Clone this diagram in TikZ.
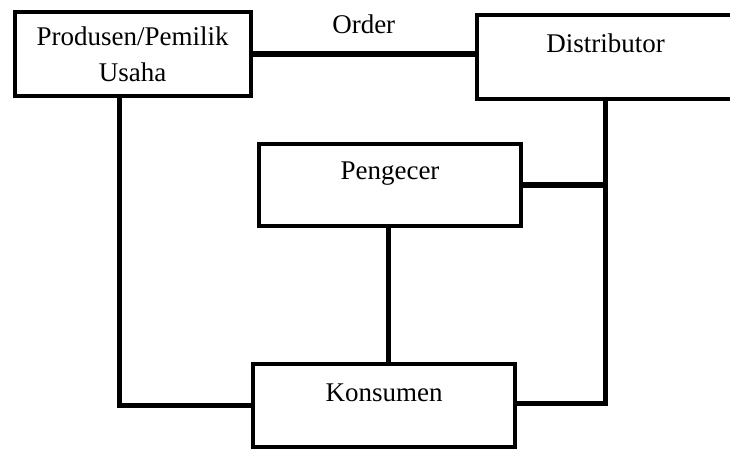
\documentclass[tikz,border=0pt]{standalone}
\usepackage{fontspec}
\setmainfont{Liberation Serif}
\usepackage{tikz}
\def\txt{\fontsize{27}{36}\selectfont}
\tikzset{
  box/.style={draw, line width=4pt, inner sep=0pt, font=\txt},
  link/.style={line width=5.5pt},
  lbl/.style={inner sep=0pt, font=\txt}
}

\begin{document}
\begin{tikzpicture}[x=1pt,y=-1pt]
\clip (0,0) rectangle (730,449);
% the four parties
\node[box, align=center, minimum width=235.8pt, minimum height=84pt] (produsen) at (132.6,54) {Produsen/Pemilik\\Usaha};
\node[box, minimum width=257pt, text height=38pt, text depth=46pt] (distributor) at (605.5,57) {Distributor};
\node[box, minimum width=262.5pt, text height=36pt, text depth=46.5pt] (pengecer) at (390,185.2) {Pengecer};
\node[box, minimum width=262.5pt, text height=37.5pt, text depth=45pt] (konsumen) at (384.2,405.7) {Konsumen};
\coordinate (turun) at (119.5,96);
% links
\draw[link] (produsen.east) -- (produsen.east -| distributor.west) node[lbl, midway, above=17.5pt] (order) {Order};
\draw[link] (turun) |- (konsumen.west);
\draw[link] (distributor.south) |- ([yshift=2pt]konsumen.east);
\draw[link] (pengecer.east) -- (pengecer.east -| distributor.south);
\draw[link] ([xshift=-1.5pt]pengecer.south) -- ([xshift=-1.5pt]pengecer.south |- konsumen.north);
\end{tikzpicture}
\end{document}
